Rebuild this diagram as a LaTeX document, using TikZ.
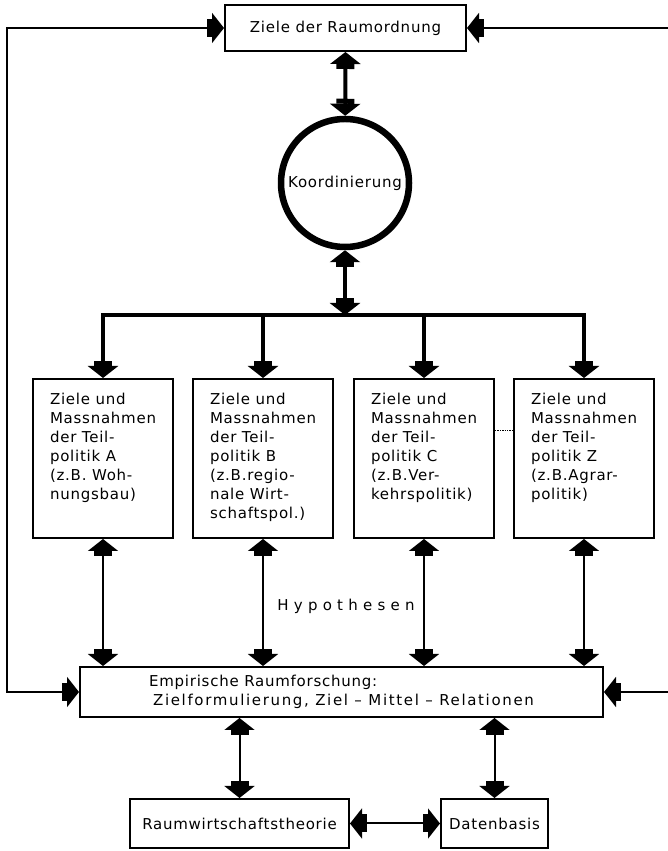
\documentclass[tikz,border=0pt]{standalone}
\usepackage{fontspec}
\setmainfont{DejaVu Sans}[LetterSpace=5]
\usetikzlibrary{arrows.meta}
\newcommand{\teiltext}[1]{\parbox[c][131pt][t]{106pt}{\raggedright #1}}

\begin{document}
\begin{tikzpicture}[x=1pt, y=1pt,
		>={Rectangle[length=5pt,width=18pt]Triangle[length=12pt,width=30pt]},
		kasten/.style={draw, line width=2pt, inner sep=0pt, font=\fontsize{15}{19}\selectfont},
		teil/.style={kasten, inner xsep=17pt, inner ysep=14pt},
		verb/.style={<->, line width=2pt},
		dick/.style={line width=4pt}]
			%%%%% START %%%%%
			
			\fill[white] (0, 0) rectangle (667, 851);
			\useasboundingbox (0, 0) rectangle (667, 851);
			
			\node[kasten, minimum width=241pt, minimum height=46pt] (ziele) at (345.5, 823) {Ziele der Raumordnung};
			\node[kasten, circle, line width=6.5pt, minimum size=128pt] (koord) at (345, 668) {Koordinierung};
			\coordinate (bus) at (345, 536);
			
			\node[teil] (teilA) at (103, 392.5) {\teiltext{Ziele und\\ Massnahmen\\ der Teil-\\ politik A\\ (z.B. Woh-\\ nungsbau)}};
			\node[teil] (teilB) at (263, 392.5) {\teiltext{Ziele und\\ Massnahmen\\ der Teil-\\ politik B\\ (z.B.regio-\\ nale Wirt-\\ schaftspol.)}};
			\node[teil] (teilC) at (424, 392.5) {\teiltext{Ziele und\\ Massnahmen\\ der Teil-\\ politik C\\ (z.B.Ver-\\ kehrspolitik)}};
			\node[teil] (teilZ) at (584, 392.5) {\teiltext{Ziele und\\ Massnahmen\\ der Teil-\\ politik Z\\ (z.B.Agrar-\\ politik)}};
			
			\node[font=\fontsize{15}{19}\selectfont] (hyp) at (346, 245) {\addfontfeature{LetterSpace=35}Hypothesen};
			
			\node[kasten, align=left, minimum width=523pt, minimum height=50pt] (empir) at (341.5, 159) {Empirische Raumforschung:\\ \hspace{4pt}\addfontfeature{LetterSpace=11}Zielformulierung, Ziel – Mittel – Relationen};
			
			\node[kasten, minimum width=219pt, minimum height=49pt] (theorie) at (239.5, 27.5) {Raumwirtschaftstheorie};
			\node[kasten, minimum width=107pt, minimum height=49pt] (daten) at (494.5, 27.5) {Datenbasis};
			
			\coordinate (links) at (7, 159);
			\coordinate (rechts) at (672, 159);
			
			% oben
			\draw[dick, <->] (ziele) -- (koord);
			\draw[dick, <->] (koord) -- (bus);
			\draw[dick, line cap=rect] (teilA.north |- bus) -- (teilZ.north |- bus);
			\foreach \t in {teilA, teilB, teilC, teilZ}
				\draw[dick, ->] (\t.north |- bus) -- (\t.north);
			
			% Hypothesen
			\foreach \t in {teilA, teilB, teilC, teilZ}
				\draw[verb] (\t.south) -- (\t.south |- empir.north);
			\draw[densely dotted, line width=1.4pt] ([yshift=28pt]teilC.east) -- ([yshift=28pt]teilZ.west);
			
			% Rueckkopplung
			\draw[verb] (ziele.west) -| (links) |- (empir.west);
			\draw[verb] (ziele.east) -| (rechts) |- (empir.east);
			
			% unten
			\draw[verb] (empir.south -| theorie) -- (theorie.north);
			\draw[verb] (empir.south -| daten) -- (daten.north);
			\draw[verb] (theorie) -- (daten);
			
			%%%%% END %%%%%
\end{tikzpicture}
\end{document}
